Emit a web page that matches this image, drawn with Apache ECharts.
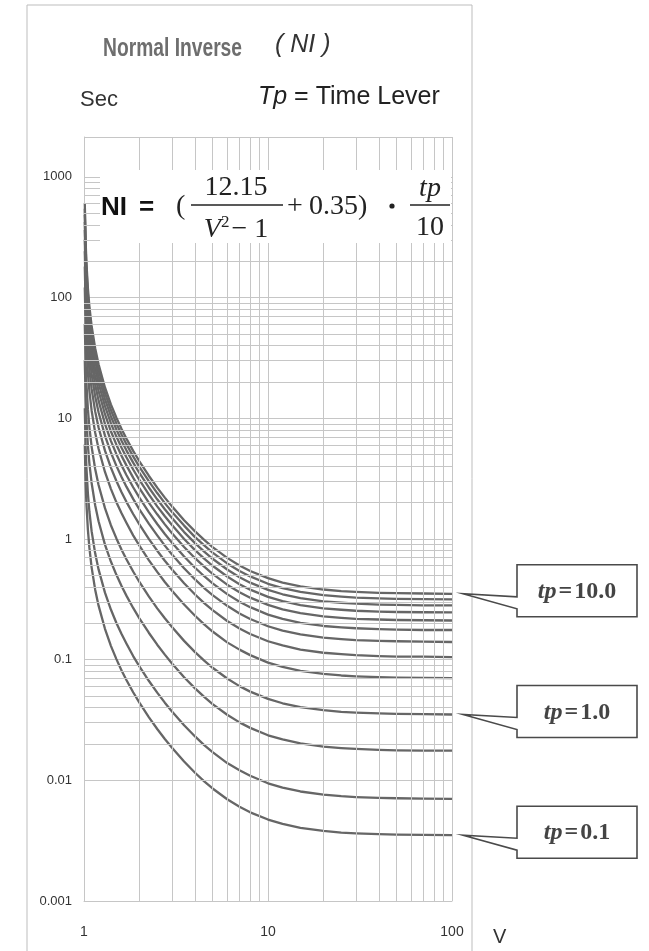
<!DOCTYPE html>
<html>
<head>
<meta charset="utf-8">
<title>Normal Inverse (NI)</title>
<script src="https://cdn.jsdelivr.net/npm/echarts@6/dist/echarts.min.js"></script>
<style>
  html, body { margin: 0; padding: 0; background: #fff; }
  #chart { width: 649px; height: 951px; }
</style>
</head>
<body>
<div id="chart"></div>
<script>
// V (multiple of pickup) where the curves were read
const vPoints = [1.01, 1.02, 1.03, 1.05, 1.07, 1.1, 1.15, 1.2, 1.3, 1.4, 1.5, 1.6, 1.7, 1.85, 2, 2.25, 2.5, 2.75, 3, 3.5, 4, 4.5, 5, 6, 7, 8, 10, 12, 15, 20, 25, 30, 40, 50, 70, 100];

// trip time in sec, one array per time lever setting
const tp10 = [605, 301, 200, 119, 84.2, 58.2, 38.0, 28.0, 18.0, 13.0, 10.1, 8.14, 6.78, 5.37, 4.40, 3.34, 2.66, 2.20, 1.87, 1.43, 1.16, 0.981, 0.856, 0.697, 0.603, 0.543, 0.473, 0.435, 0.404, 0.381, 0.369, 0.364, 0.358, 0.355, 0.353, 0.351];
const tp9  = [544, 271, 180, 107, 75.8, 52.4, 34.2, 25.2, 16.2, 11.7, 9.06, 7.32, 6.10, 4.83, 3.96, 3.01, 2.40, 1.98, 1.68, 1.29, 1.04, 0.883, 0.770, 0.627, 0.543, 0.489, 0.425, 0.392, 0.364, 0.342, 0.333, 0.327, 0.322, 0.319, 0.317, 0.316];
const tp8  = [484, 241, 160, 95.1, 67.4, 46.6, 30.4, 22.4, 14.4, 10.4, 8.06, 6.51, 5.42, 4.29, 3.52, 2.67, 2.13, 1.76, 1.50, 1.14, 0.928, 0.785, 0.685, 0.558, 0.482, 0.434, 0.378, 0.348, 0.323, 0.304, 0.296, 0.291, 0.286, 0.284, 0.282, 0.281];
const tp7  = [423, 211, 140, 83.2, 58.9, 40.7, 26.6, 19.6, 12.6, 9.10, 7.05, 5.70, 4.75, 3.76, 3.08, 2.34, 1.86, 1.54, 1.31, 1.00, 0.812, 0.687, 0.599, 0.488, 0.422, 0.380, 0.331, 0.305, 0.283, 0.266, 0.259, 0.254, 0.250, 0.248, 0.247, 0.246];
const tp6  = [363, 181, 120, 71.3, 50.5, 34.9, 22.8, 16.8, 10.8, 7.80, 6.04, 4.88, 4.07, 3.22, 2.64, 2.00, 1.60, 1.32, 1.12, 0.858, 0.696, 0.589, 0.514, 0.418, 0.362, 0.326, 0.284, 0.261, 0.243, 0.228, 0.222, 0.218, 0.215, 0.213, 0.212, 0.211];
const tp5  = [302, 151, 100, 59.5, 42.1, 29.1, 19.0, 14.0, 8.98, 6.50, 5.04, 4.07, 3.39, 2.68, 2.20, 1.67, 1.33, 1.10, 0.935, 0.715, 0.580, 0.491, 0.428, 0.349, 0.302, 0.272, 0.236, 0.218, 0.202, 0.190, 0.185, 0.182, 0.179, 0.177, 0.176, 0.176];
const tp4  = [242, 120, 80.0, 47.6, 33.7, 23.3, 15.2, 11.2, 7.18, 5.20, 4.03, 3.26, 2.71, 2.15, 1.76, 1.34, 1.07, 0.880, 0.748, 0.572, 0.464, 0.392, 0.342, 0.279, 0.241, 0.217, 0.189, 0.174, 0.162, 0.152, 0.148, 0.145, 0.143, 0.142, 0.141, 0.140];
const tp3  = [181, 90.3, 60.0, 35.7, 25.3, 17.5, 11.4, 8.39, 5.39, 3.90, 3.02, 2.44, 2.03, 1.61, 1.32, 1.00, 0.799, 0.660, 0.561, 0.429, 0.348, 0.294, 0.257, 0.209, 0.181, 0.163, 0.142, 0.131, 0.121, 0.114, 0.111, 0.109, 0.107, 0.106, 0.106, 0.105];
const tp2  = [121, 60.2, 40.0, 23.8, 16.8, 11.6, 7.60, 5.59, 3.59, 2.60, 2.01, 1.63, 1.36, 1.07, 0.880, 0.668, 0.533, 0.440, 0.374, 0.286, 0.232, 0.196, 0.171, 0.139, 0.121, 0.109, 0.0945, 0.0870, 0.0808, 0.0761, 0.0739, 0.0727, 0.0715, 0.0710, 0.0705, 0.0702];
const tp1  = [60.5, 30.1, 20.0, 11.9, 8.42, 5.82, 3.80, 2.80, 1.80, 1.30, 1.01, 0.814, 0.678, 0.537, 0.440, 0.334, 0.266, 0.220, 0.187, 0.143, 0.116, 0.0981, 0.0856, 0.0697, 0.0603, 0.0543, 0.0473, 0.0435, 0.0404, 0.0381, 0.0369, 0.0364, 0.0358, 0.0355, 0.0353, 0.0351];
const tp05 = [30.2, 15.1, 10.0, 5.95, 4.21, 2.91, 1.90, 1.40, 0.898, 0.650, 0.504, 0.407, 0.339, 0.268, 0.220, 0.167, 0.133, 0.110, 0.0935, 0.0715, 0.0580, 0.0491, 0.0428, 0.0349, 0.0302, 0.0272, 0.0236, 0.0218, 0.0202, 0.0190, 0.0185, 0.0182, 0.0179, 0.0177, 0.0176, 0.0176];
const tp02 = [12.1, 6.02, 4.00, 2.38, 1.68, 1.16, 0.760, 0.559, 0.359, 0.260, 0.201, 0.163, 0.136, 0.107, 0.0880, 0.0668, 0.0533, 0.0440, 0.0374, 0.0286, 0.0232, 0.0196, 0.0171, 0.0139, 0.0121, 0.0109, 0.00945, 0.00870, 0.00808, 0.00761, 0.00739, 0.00727, 0.00715, 0.00710, 0.00705, 0.00702];
const tp01 = [6.05, 3.01, 2.00, 1.19, 0.842, 0.582, 0.380, 0.280, 0.180, 0.130, 0.101, 0.0814, 0.0678, 0.0537, 0.0440, 0.0334, 0.0266, 0.0220, 0.0187, 0.0143, 0.0116, 0.00981, 0.00856, 0.00697, 0.00603, 0.00543, 0.00473, 0.00435, 0.00404, 0.00381, 0.00369, 0.00364, 0.00358, 0.00355, 0.00353, 0.00351];

const curveNames = ['10.0', '9', '8', '7', '6', '5', '4', '3', '2', '1.0', '0.5', '0.2', '0.1'];
const curveValues = [tp10, tp9, tp8, tp7, tp6, tp5, tp4, tp3, tp2, tp1, tp05, tp02, tp01];

const xTickLabels = ['1', '10', '100'];
const yTickLabels = ['0.001', '0.01', '0.1', '1', '10', '100', '1000'];
const calloutCurves = ['10.0', '1.0', '0.1'];

// minor grid: 2..9 inside every decade
const minorDigits = [2, 3, 4, 5, 6, 7, 8, 9];
const xMinor = [], yMinor = [];
[1, 10].forEach(d => minorDigits.forEach(k => xMinor.push(+(k * d).toPrecision(3))));
[0.001, 0.01, 0.1, 1, 10, 100].forEach(d => minorDigits.forEach(k => yMinor.push(+(k * d).toPrecision(3))));

const GRID = '#c6c6c6';
const CURVE = '#666666';

var myChart = echarts.init(document.getElementById('chart'));

var series = curveValues.map((vals, i) => ({
  name: 'tp=' + curveNames[i],
  type: 'line',
  data: vPoints.map((v, j) => [v, vals[j]]),
  showSymbol: false,
  smooth: false,
  lineStyle: { color: CURVE, width: 2.3, join: 'round' },
  z: 3,
  animation: false
}));

// helper series only carrying the minor grid lines
series.unshift({
  type: 'line',
  data: [],
  z: 1,
  silent: true,
  markLine: {
    silent: true,
    symbol: ['none', 'none'],
    label: { show: false },
    animation: false,
    lineStyle: { color: GRID, width: 1, type: 'solid' },
    data: xMinor.map(v => ({ xAxis: v })).concat(yMinor.map(v => ({ yAxis: v })))
  }
});

var option = {
  animation: false,
  backgroundColor: '#fff',
  grid: { left: 84, right: 197, top: 137, bottom: 50 },
  xAxis: {
    type: 'log',
    min: 1,
    max: 100,
    name: 'V',
    nameLocation: 'end',
    nameGap: 41,
    nameTextStyle: { fontSize: 20, color: '#333', fontFamily: 'Liberation Sans', verticalAlign: 'top', padding: [26, 0, 0, 0] },
    axisLine: { lineStyle: { color: GRID } },
    axisTick: { show: false },
    axisLabel: {
      margin: 24,
      fontSize: 14,
      color: '#333',
      fontFamily: 'Liberation Sans Narrow, Liberation Sans',
      showMaxLabel: true,
      formatter: v => {
        const k = Math.round(Math.log10(v));
        return Math.abs(Math.log10(v) - k) < 1e-6 ? xTickLabels[k] : '';
      }
    },
    splitLine: { show: true, lineStyle: { color: GRID, width: 1 } }
  },
  yAxis: {
    type: 'log',
    min: 0.001,
    max: 2140,
    axisLine: { lineStyle: { color: GRID } },
    axisTick: { show: false },
    axisLabel: {
      margin: 12,
      fontSize: 13,
      color: '#333',
      fontFamily: 'Liberation Sans Narrow, Liberation Sans',
      formatter: v => {
        const k = Math.round(Math.log10(v));
        return Math.abs(Math.log10(v) - k) < 1e-6 ? yTickLabels[k + 3] : '';
      }
    },
    splitLine: { show: true, lineStyle: { color: GRID, width: 1 } }
  },
  series: series
};

myChart.setOption(option);

// ---- texts, formula and callouts ----
const serif = 'Liberation Serif, DejaVu Serif, serif';
const sans = 'Liberation Sans, Arial, sans-serif';
var g = [];

// outer frame
g.push({ type: 'rect', z: 0, shape: { x: 27, y: 5, width: 445, height: 960 }, style: { fill: 'none', stroke: '#bdbdbd', lineWidth: 1 } });

// headings
g.push({ type: 'text', x: 103, y: 49, scaleX: 0.74, style: { text: 'Normal Inverse', font: 'bold 26px ' + sans, fill: '#6e6e6e', verticalAlign: 'middle' } });
g.push({ type: 'text', x: 275, y: 45, style: { text: '( NI )', font: 'italic 25px ' + sans, fill: '#333', verticalAlign: 'middle' } });
g.push({ type: 'text', x: 80, y: 100, style: { text: 'Sec', font: '22px ' + sans, fill: '#333', verticalAlign: 'middle' } });
g.push({ type: 'text', x: 258, y: 97, style: {
  text: '{i|Tp} = Time Lever', font: '25px ' + sans, fill: '#222', verticalAlign: 'middle',
  rich: { i: { fontStyle: 'italic', fontSize: 25, fontFamily: sans, fill: '#222' } }
} });

// formula box
g.push({ type: 'rect', z: 10, shape: { x: 100, y: 170, width: 351, height: 73 }, style: { fill: '#fff' } });
const fz = 11;
g.push({ type: 'text', z: fz, x: 101, y: 208, style: { text: 'NI', font: 'bold 26px ' + sans, fill: '#111', verticalAlign: 'middle' } });
g.push({ type: 'text', z: fz, x: 139, y: 208, style: { text: '=', font: 'bold 26px ' + sans, fill: '#111', verticalAlign: 'middle' } });
g.push({ type: 'text', z: fz, x: 176, y: 207, style: { text: '(', font: '28px ' + serif, fill: '#222', verticalAlign: 'middle' } });
g.push({ type: 'text', z: fz, x: 236, y: 188, style: { text: '12.15', font: '28px ' + serif, fill: '#222', align: 'center', verticalAlign: 'middle' } });
g.push({ type: 'line', z: fz, shape: { x1: 191, y1: 205, x2: 283, y2: 205 }, style: { stroke: '#222', lineWidth: 1.3 } });
g.push({ type: 'text', z: fz, x: 236, y: 230, style: {
  text: '{v|V}{s|2}{n|− 1}', align: 'center', verticalAlign: 'middle',
  rich: {
    v: { fontFamily: serif, fontStyle: 'italic', fontSize: 28, fill: '#222' },
    s: { fontFamily: serif, fontSize: 17, fill: '#222', verticalAlign: 'top', padding: [0, 2, 15, 0] },
    n: { fontFamily: serif, fontSize: 28, fill: '#222' }
  }
} });
g.push({ type: 'text', z: fz, x: 287, y: 207, style: { text: '+', font: '28px ' + serif, fill: '#222', verticalAlign: 'middle' } });
g.push({ type: 'text', z: fz, x: 309, y: 207, style: { text: '0.35)', font: '28px ' + serif, fill: '#222', verticalAlign: 'middle' } });
g.push({ type: 'circle', z: fz, shape: { cx: 392, cy: 206, r: 2.6 }, style: { fill: '#222' } });
g.push({ type: 'text', z: fz, x: 430, y: 189, style: { text: 'tp', font: 'italic 28px ' + serif, fill: '#222', align: 'center', verticalAlign: 'middle' } });
g.push({ type: 'line', z: fz, shape: { x1: 410, y1: 205, x2: 450, y2: 205 }, style: { stroke: '#222', lineWidth: 1.3 } });
g.push({ type: 'text', z: fz, x: 430, y: 228, style: { text: '10', font: '28px ' + serif, fill: '#222', align: 'center', verticalAlign: 'middle' } });

// callouts pointing at the end of a curve
calloutCurves.forEach(name => {
  const idx = curveNames.indexOf(name);
  const vals = curveValues[idx];
  const tip = myChart.convertToPixel({ gridIndex: 0 }, [vPoints[vPoints.length - 1], vals[vals.length - 1]]);
  const ty = tip[1];
  const L = 517, R = 637, T = ty - 29, B = ty + 23;
  g.push({ type: 'polygon', z: 12, shape: { points: [[L, T], [R, T], [R, B], [L, B], [L, ty + 15], [463, ty], [L, ty + 3]] },
    style: { fill: '#fff', stroke: '#4a4a4a', lineWidth: 1.6 } });
  g.push({ type: 'text', z: 13, x: (L + R) / 2, y: T + 27, style: {
    text: '{i|tp}{e|=}{n|' + name + '}', align: 'center', verticalAlign: 'middle',
    rich: {
      i: { fontFamily: serif, fontStyle: 'italic', fontWeight: 'bold', fontSize: 24, fill: '#444' },
      e: { fontFamily: serif, fontWeight: 'bold', fontSize: 24, fill: '#444', padding: [0, 2, 0, 2] },
      n: { fontFamily: serif, fontWeight: 'bold', fontSize: 24, fill: '#444' }
    }
  } });
});

myChart.setOption({ graphic: { elements: g } });
</script>
</body>
</html>
